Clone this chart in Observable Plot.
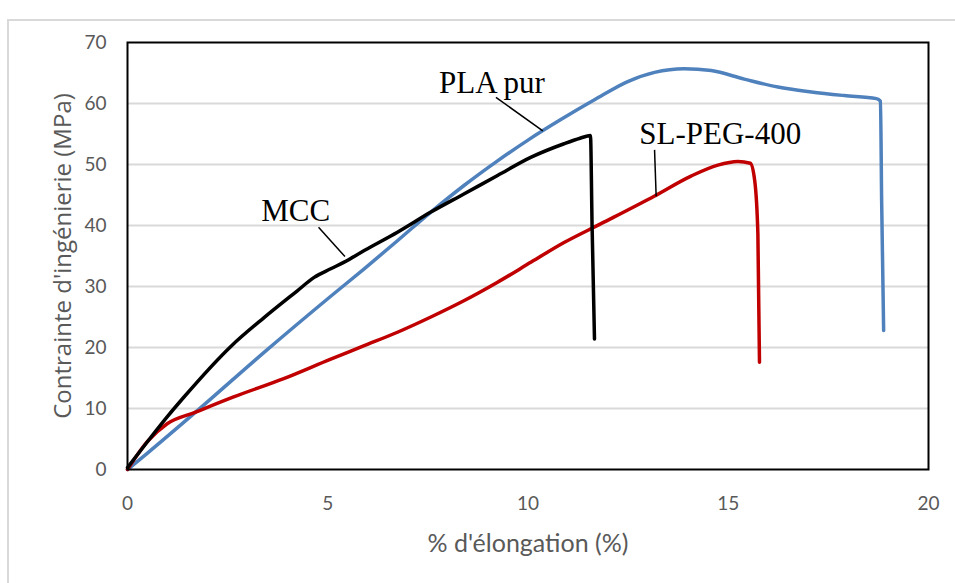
<!DOCTYPE html>
<html>
<head>
<meta charset="utf-8">
<script src="https://cdn.jsdelivr.net/npm/d3@7"></script>
<script src="https://cdn.jsdelivr.net/npm/@observablehq/plot@0.6"></script>
<style>
  html, body { margin: 0; padding: 0; background: #fff; }
  #wrap { position: relative; width: 955px; height: 583px; overflow: hidden; }
  #border { position: absolute; left: 7px; top: 19px; width: 1000px; height: 1000px;
            border: 2px solid #d9d9d9; pointer-events: none; box-sizing: border-box; }
</style>
</head>
<body>
<div id="wrap"><div id="border"></div></div>
<script>
// Series: [% d'élongation, contrainte (MPa)]
const plaPur = [
  [0, 0], [0.5, 2.7], [1.7, 9.4], [3.41, 19.2], [5.075, 28.4], [5.91, 32.9],
  [6.74, 37.5], [7.575, 42.2], [8.41, 46.6], [9.24, 50.6], [10.0, 54.0],
  [10.83, 57.4], [11.66, 60.6], [12.49, 63.6], [13.16, 65.1], [13.9, 65.7],
  [14.575, 65.4], [15.4, 64.0], [16.24, 62.7], [17.075, 61.9], [17.9, 61.3],
  [18.7, 60.8], [18.8, 60.4], [18.83, 44.1], [18.88, 22.8]
];
const mcc = [
  [0, 0.3], [0.575, 5.2], [1.0, 8.7], [1.4, 11.8], [2.6, 20.3], [3.41, 24.9],
  [4.24, 29.3], [4.66, 31.5], [5.075, 32.9], [5.41, 34.0], [5.91, 35.9],
  [6.74, 38.9], [7.575, 42.2], [8.41, 45.2], [9.24, 48.2], [10.08, 51.2],
  [10.9, 53.4], [11.3, 54.3], [11.56, 54.75], [11.6, 40.0], [11.66, 21.4]
];
const slPeg400 = [
  [0, 0], [0.5, 4.6], [0.99, 7.5], [1.7, 9.4], [2.65, 11.9], [3.9, 14.9],
  [5.075, 18.1], [5.91, 20.3], [6.74, 22.5], [7.575, 25.0], [8.41, 27.7],
  [9.24, 30.7], [10.08, 34.0], [10.9, 37.2], [11.825, 40.3], [13.15, 44.8],
  [14.07, 48.1], [14.74, 49.9], [15.24, 50.5], [15.55, 50.2], [15.66, 47.4],
  [15.74, 38.6], [15.78, 17.6]
];

const xTicks = [0, 5, 10, 15, 20];
const yTicks = [0, 10, 20, 30, 40, 50, 60, 70];
const gridTicks = [10, 20, 30, 40, 50, 60];

// Annotation labels and their pointer lines (data units)
const labels = [
  {text: "PLA pur", x: 9.1, y: 61.8},
  {text: "MCC", x: 4.2, y: 40.7},
  {text: "SL-PEG-400", x: 14.8, y: 53.3}
];
const pointers = [
  {x1: 9.2, y1: 61.0, x2: 10.37, y2: 55.5},
  {x1: 4.77, y1: 39.7, x2: 5.43, y2: 34.9},
  {x1: 13.16, y1: 52.4, x2: 13.2, y2: 44.8}
];

const tickFont = "Lato, 'Open Sans', sans-serif";
const grey = "#595959";
const lineOpts = {x: d => d[0], y: d => d[1], strokeWidth: 3.5, strokeLinejoin: "round", strokeLinecap: "round", curve: "monotone-x"};

const chart = Plot.plot({
  width: 955,
  height: 583,
  marginLeft: 127,
  marginRight: 27,
  marginTop: 42,
  marginBottom: 114,
  style: {background: "transparent"},
  x: {domain: [0, 20]},
  y: {domain: [0, 70]},
  marks: [
    Plot.gridY(gridTicks, {stroke: "#d9d9d9", strokeOpacity: 1, strokeWidth: 2}),
    Plot.axisX(xTicks, {tickSize: 0, tickPadding: 27, fontSize: 19, fontFamily: tickFont, color: grey, label: null}),
    Plot.axisY(yTicks, {tickSize: 0, tickPadding: 21, fontSize: 19, fontFamily: tickFont, color: grey, label: null}),
    Plot.text(["% d'élongation (%)"], {frameAnchor: "bottom", dy: 74, textAnchor: "middle", lineAnchor: "middle", fontSize: 25, fontFamily: tickFont, fill: grey}),
    Plot.text(["Contrainte d'ingénierie (MPa)"], {frameAnchor: "left", dx: -64, rotate: -90, textAnchor: "middle", lineAnchor: "middle", fontSize: 24, fontFamily: "'Open Sans', sans-serif", fill: grey}),
    Plot.line(plaPur, {...lineOpts, stroke: "#4f81bd"}),
    Plot.line(slPeg400, {...lineOpts, stroke: "#c00000"}),
    Plot.line(mcc, {...lineOpts, stroke: "#000000"}),
    Plot.frame({stroke: "#000", strokeWidth: 2}),
    Plot.link(pointers, {x1: "x1", y1: "y1", x2: "x2", y2: "y2", stroke: "#000", strokeWidth: 1.5}),
    Plot.text(labels, {x: "x", y: "y", text: "text", textAnchor: "middle", lineAnchor: "bottom", fontSize: 31, fontFamily: "'Liberation Serif', 'Times New Roman', serif", fill: "#000"})
  ]
});
document.getElementById("wrap").prepend(chart);
</script>
</body>
</html>
